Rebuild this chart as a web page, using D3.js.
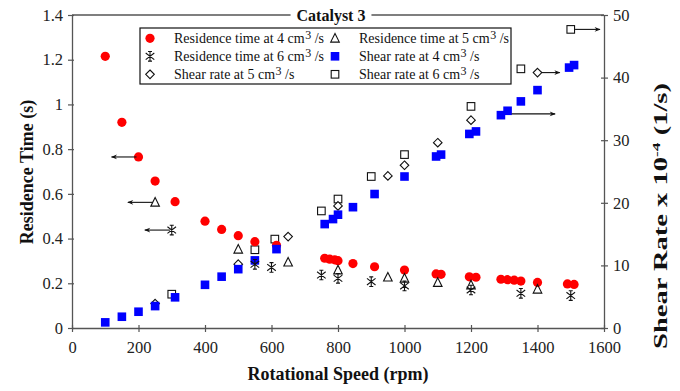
<!DOCTYPE html>
<html><head><meta charset="utf-8">
<script src="https://cdn.jsdelivr.net/npm/d3@7"></script>
<style>
html,body{margin:0;padding:0;background:#fff;}
svg{display:block;font-family:"Liberation Serif","Times New Roman",serif;}
</style></head>
<body><svg id="chart" width="680" height="391"></svg>
<script>
// ---- data ----
const xTicks = [0,200,400,600,800,1000,1200,1400,1600];
const yLeftTicks = [0,0.2,0.4,0.6,0.8,1,1.2,1.4];
const yRightTicks = [0,10,20,30,40,50];

const rt4Speed = [100,150,200,250,310,400,450,500,550,615,760,775,790,800,845,910,1000,1095,1110,1195,1215,1290,1310,1330,1350,1400,1490,1510];
const rt4Time  = [1.215,0.92,0.765,0.657,0.565,0.478,0.441,0.413,0.386,0.37,0.312,0.308,0.305,0.301,0.288,0.274,0.259,0.242,0.24,0.229,0.227,0.218,0.216,0.214,0.21,0.204,0.197,0.195];

const rt5Speed = [250,500,650,800,950,1000,1100,1200,1400];
const rt5Time  = [0.562,0.352,0.294,0.259,0.227,0.222,0.203,0.192,0.173];

const rt6Speed = [300,550,600,750,800,900,1000,1200,1350,1500];
const rt6Time  = [0.438,0.285,0.271,0.237,0.222,0.207,0.188,0.170,0.155,0.145];

const sr4Speed = [100,150,200,250,310,400,450,500,550,615,760,785,800,845,910,1000,1095,1110,1195,1215,1290,1310,1350,1400,1495,1510];
const sr4Rate  = [0.9,1.8,2.6,3.5,4.9,6.9,8.2,9.4,10.8,12.6,16.6,17.4,18.1,19.3,21.4,24.2,27.4,27.7,31.0,31.4,34.0,34.7,36.2,38.0,41.6,42.0];

const sr5Speed = [250,500,650,800,950,1000,1100,1200,1400];
const sr5Rate  = [3.9,10.2,14.6,19.5,24.3,26.0,29.6,33.2,40.8];

const sr6Speed = [300,550,610,750,800,900,1000,1200,1350,1500];
const sr6Rate  = [5.4,12.5,14.2,18.7,20.6,24.2,27.7,35.4,41.4,47.7];

// arrows: [fromSpeed, toSpeed, value]
const arrowsLeft  = [[194,119,0.765],[243,168,0.562],[295,219,0.438]];
const arrowsRight = [[1412,1467,40.8],[1322,1453,34.2],[1513,1588,47.7]];

const legendLabels = [
  ["Residence time at 4 cm","3"," /s"],
  ["Residence time at 5 cm","3"," /s"],
  ["Residence time at 6 cm","3"," /s"],
  ["Shear rate at 4 cm","3"," /s"],
  ["Shear rate at 5 cm","3"," /s"],
  ["Shear rate at 6 cm","3"," /s"]
];

// ---- layout ----
const svg = d3.select("#chart");
const L = 72, R = 604, T = 15, B = 328;
const x = d3.scaleLinear().domain([0,1600]).range([L,R]);
const yL = d3.scaleLinear().domain([0,1.4]).range([B,T]);
const yR = d3.scaleLinear().domain([0,50]).range([B,T]);
const axisColor = "#555";

// frame top line
svg.append("line").attr("x1",L).attr("x2",R).attr("y1",T).attr("y2",T)
  .attr("stroke",axisColor).attr("stroke-width",1.3);

function styleAxis(g){
  g.select(".domain").attr("stroke",axisColor).attr("stroke-width",1.3);
  g.selectAll(".tick line").attr("stroke",axisColor).attr("stroke-width",1.2);
  g.selectAll(".tick text").attr("fill","#222").style("font-size","16.5px")
    .style("font-family","'Liberation Serif','Times New Roman',serif");
}

const gx = svg.append("g").attr("transform",`translate(0,${B})`)
  .call(d3.axisBottom(x).tickValues(xTicks).tickSize(4).tickSizeOuter(0).tickPadding(9).tickFormat(d3.format("d")));
gx.selectAll(".tick line").attr("y1",-3);
styleAxis(gx);

const gyl = svg.append("g").attr("transform",`translate(${L},0)`)
  .call(d3.axisLeft(yL).tickValues(yLeftTicks).tickSize(4).tickSizeOuter(0).tickPadding(5).tickFormat(d=>d===0?"0":d===1?"1":d3.format(".1f")(d)));
gyl.selectAll(".tick line").attr("x1",2);
styleAxis(gyl);

const gyr = svg.append("g").attr("transform",`translate(${R},0)`)
  .call(d3.axisRight(yR).tickValues(yRightTicks).tickSize(4).tickSizeOuter(0).tickPadding(5).tickFormat(d3.format("d")));
gyr.selectAll(".tick line").attr("x1",-3);
styleAxis(gyr);

// title with white background breaking the top frame line
const titleG = svg.append("g");
const titleBg = titleG.append("rect").attr("fill","#fff");
const title = titleG.append("text").attr("x",331).attr("y",21).attr("text-anchor","middle")
  .style("font-size","16px").style("font-weight","bold").attr("fill","#111").text("Catalyst 3");
const tb = title.node().getBBox();
titleBg.attr("x",tb.x-6).attr("y",T-3).attr("width",tb.width+12).attr("height",6);

// axis titles
svg.append("text").attr("x",338).attr("y",380).attr("text-anchor","middle")
  .style("font-size","18px").style("font-weight","bold").attr("fill","#111").text("Rotational Speed (rpm)");
svg.append("text").attr("transform","translate(33,172) rotate(-90)").attr("text-anchor","middle")
  .style("font-size","18px").style("font-weight","bold").attr("fill","#111").text("Residence Time (s)");
const rtG = svg.append("g");
const rt = rtG.append("text").attr("x",0).attr("y",0).attr("text-anchor","middle")
  .style("font-size","18px").style("font-weight","bold").attr("fill","#111");
rt.append("tspan").text("Shear Rate x 10");
rt.append("tspan").attr("dy",-7).style("font-size","11px").text("-4");
rt.append("tspan").attr("dy",7).text(" (1/s)");
const rtw = rt.node().getBBox().width;
rtG.attr("transform",`translate(667,216) rotate(-90) scale(${266/rtw},1)`);

// ---- marker drawers ----
const S = 4.3;
function drawMarker(g, type){
  if(type==="circle"){
    g.append("circle").attr("r",S+0.3).attr("fill","#f00");
  } else if(type==="bsquare"){
    g.append("rect").attr("x",-S).attr("y",-S).attr("width",2*S).attr("height",2*S).attr("fill","#00f");
  } else if(type==="osquare"){
    g.append("rect").attr("x",-S+0.5).attr("y",-S+0.5).attr("width",2*S-1).attr("height",2*S-1)
      .attr("fill","#fff").attr("stroke","#111").attr("stroke-width",1.1);
  } else if(type==="diamond"){
    g.append("path").attr("d",`M0,${-S}L${S},0L0,${S}L${-S},0Z`)
      .attr("fill","#fff").attr("stroke","#111").attr("stroke-width",1.1);
  } else if(type==="triangle"){
    g.append("path").attr("d",`M0,${-S-0.5}L${S},${S-0.5}L${-S},${S-0.5}Z`)
      .attr("fill","none").attr("stroke","#111").attr("stroke-width",1.1);
  } else if(type==="star"){
    g.append("path").attr("d",`M0,${-S-0.5}V${S+0.5}M${-S},${-S+1}L${S},${S-1}M${-S},${S-1}L${S},${-S+1}M${-2},${-S-0.5}H2M-2,${S+0.5}H2`)
      .attr("fill","none").attr("stroke","#111").attr("stroke-width",1.1);
  }
}
function plotSeries(xs, ys, yScale, type){
  const g = svg.append("g");
  xs.forEach((s,i)=>{
    const m = g.append("g").attr("transform",`translate(${x(s)},${yScale(ys[i])})`);
    drawMarker(m,type);
  });
}

// draw order
plotSeries(sr6Speed, sr6Rate, yR, "osquare");
plotSeries(sr5Speed, sr5Rate, yR, "diamond");
plotSeries(rt4Speed, rt4Time, yL, "circle");
plotSeries(sr4Speed, sr4Rate, yR, "bsquare");
plotSeries(rt5Speed, rt5Time, yL, "triangle");
plotSeries(rt6Speed, rt6Time, yL, "star");

// arrows
svg.append("defs").append("marker").attr("id","ah").attr("viewBox","0 0 10 10")
  .attr("refX",9).attr("refY",5).attr("markerWidth",8).attr("markerHeight",6).attr("orient","auto")
  .attr("markerUnits","userSpaceOnUse")
  .append("path").attr("d","M0,1L10,5L0,9L3,5Z").attr("fill","#111");
function drawArrows(arr, yScale){
  arr.forEach(a=>{
    svg.append("line").attr("x1",x(a[0])).attr("x2",x(a[1])).attr("y1",yScale(a[2])).attr("y2",yScale(a[2]))
      .attr("stroke","#111").attr("stroke-width",1.1).attr("marker-end","url(#ah)");
  });
}
drawArrows(arrowsLeft, yL);
drawArrows(arrowsRight, yR);

// ---- legend ----
const lg = svg.append("g");
lg.append("rect").attr("x",140).attr("y",28).attr("width",371).attr("height",56)
  .attr("fill","#fff").attr("stroke","#111").attr("stroke-width",1.2);
const legendTypes = ["circle","triangle","star","bsquare","diamond","osquare"];
const legendOrder = [0,1,2,3,4,5];
legendOrder.forEach((idx,k)=>{
  const col = k%2, row = Math.floor(k/2);
  const mx = col===0?150:335, tx = col===0?174:359, yy = 38.3 + row*18;
  const m = lg.append("g").attr("transform",`translate(${mx},${yy})`);
  drawMarker(m, legendTypes[idx]);
  const t = lg.append("text").attr("x",tx).attr("y",yy+4.5).style("font-size","14px").attr("fill","#111");
  t.append("tspan").text(legendLabels[idx][0]);
  t.append("tspan").attr("dy",-4).attr("dx",0.5).style("font-size","12px").text(legendLabels[idx][1]);
  t.append("tspan").attr("dy",4).text(legendLabels[idx][2]);
});
</script></body></html>
